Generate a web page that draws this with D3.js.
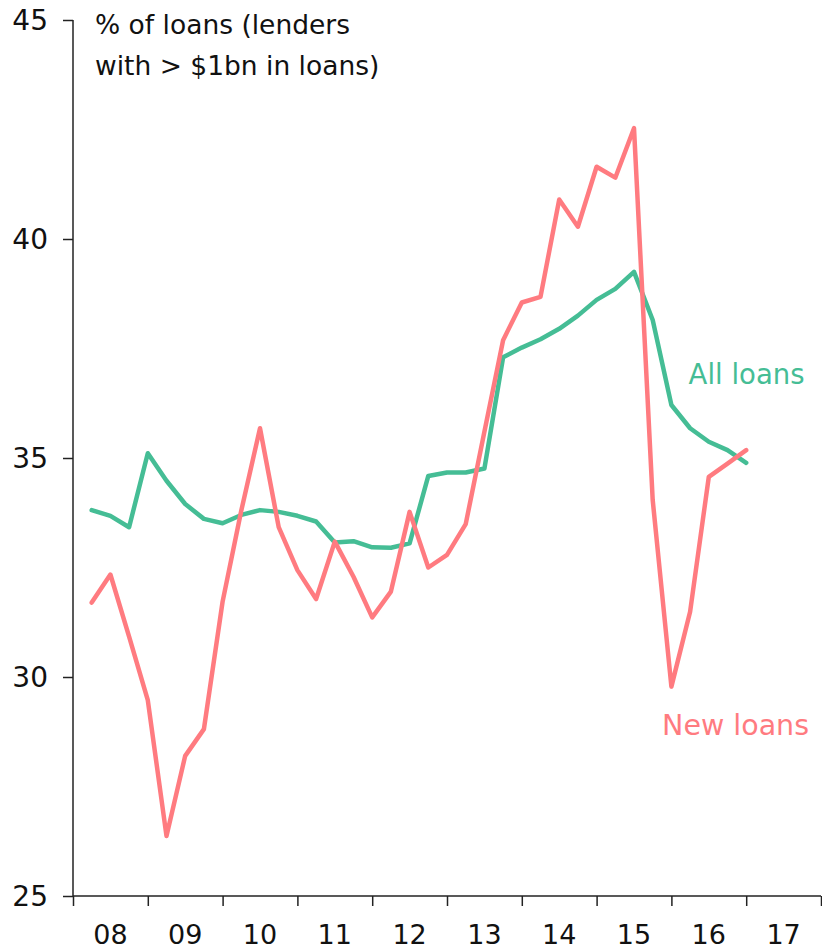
<!DOCTYPE html>
<html>
<head>
<meta charset="utf-8">
<script src="https://cdnjs.cloudflare.com/ajax/libs/d3/7.8.5/d3.min.js"></script>
<style>
  body { margin: 0; background: #fff; }
  svg { display: block; font-family: "Century Gothic", "DejaVu Sans", sans-serif; }
</style>
</head>
<body>
<div id="chart"></div>
<script>
var svgWidth = 822;
var svgHeight = 951;

var chartMargin = {
  top: 20,
  right: 1,
  bottom: 55,
  left: 73
};

var chartWidth = svgWidth - chartMargin.left - chartMargin.right;
var chartHeight = svgHeight - chartMargin.top - chartMargin.bottom;

// quarterly observations, plotted at the end of each quarter
var quarters = [
  "2008Q1", "2008Q2", "2008Q3", "2008Q4",
  "2009Q1", "2009Q2", "2009Q3", "2009Q4",
  "2010Q1", "2010Q2", "2010Q3", "2010Q4",
  "2011Q1", "2011Q2", "2011Q3", "2011Q4",
  "2012Q1", "2012Q2", "2012Q3", "2012Q4",
  "2013Q1", "2013Q2", "2013Q3", "2013Q4",
  "2014Q1", "2014Q2", "2014Q3", "2014Q4",
  "2015Q1", "2015Q2", "2015Q3", "2015Q4",
  "2016Q1", "2016Q2", "2016Q3", "2016Q4"
];

var allLoans = [
  33.81, 33.68, 33.42, 35.11,
  34.48, 33.95, 33.61, 33.51,
  33.70, 33.81, 33.77, 33.68,
  33.55, 33.07, 33.10, 32.96,
  32.95, 33.05, 34.59, 34.67,
  34.67, 34.76, 37.30, 37.52,
  37.71, 37.95, 38.25, 38.61,
  38.86, 39.25, 38.15, 36.21,
  35.68, 35.37, 35.18, 34.89
];

var newLoans = [
  31.70, 32.34, 30.92, 29.47,
  26.37, 28.20, 28.81, 31.72,
  33.80, 35.68, 33.42, 32.44,
  31.78, 33.09, 32.29, 31.36,
  31.95, 33.77, 32.50, 32.79,
  33.49, 35.60, 37.69, 38.55,
  38.68, 40.90, 40.28, 41.65,
  41.40, 42.53, 34.04, 29.78,
  31.49, 34.57, 34.87, 35.18
];

var years = [2008, 2009, 2010, 2011, 2012, 2013, 2014, 2015, 2016, 2017];
var yTicks = [25, 30, 35, 40, 45];

var greenColor = "#45bd95";
var redColor = "#ff7b80";

function quarterToYear(q) {
  return +q.slice(0, 4) + (+q.slice(5)) / 4;
}

var svg = d3
  .select("#chart")
  .append("svg")
  .attr("height", svgHeight)
  .attr("width", svgWidth);

var chartGroup = svg.append("g")
  .attr("transform", `translate(${chartMargin.left}, ${chartMargin.top})`);

var xScale = d3.scaleLinear()
  .domain([2008, 2018])
  .range([0, chartWidth]);

var yScale = d3.scaleLinear()
  .domain([25, 45])
  .range([chartHeight, 0]);

// axes
var bottomAxis = d3.axisBottom(xScale)
  .tickValues(years.concat([2018]))
  .tickSize(10)
  .tickFormat("");

var leftAxis = d3.axisLeft(yScale)
  .tickValues(yTicks)
  .tickSize(10)
  .tickFormat("");

var x_axis = chartGroup.append("g")
  .attr("transform", `translate(0, ${chartHeight})`)
  .call(bottomAxis);

var y_axis = chartGroup.append("g")
  .call(leftAxis);

chartGroup.selectAll(".domain, .tick line")
  .attr("stroke", "#222")
  .attr("stroke-width", 1.5);

x_axis.select(".domain").attr("d", `M0,0H${chartWidth}`);
y_axis.select(".domain").attr("d", `M0,${chartHeight}V0`);

// year labels sit in the middle of each year
chartGroup.append("g")
  .selectAll("text")
  .data(years)
  .enter()
  .append("text")
  .attr("x", d => xScale(d + 0.5))
  .attr("y", chartHeight + 48)
  .attr("text-anchor", "middle")
  .style("font-size", "27px")
  .style("fill", "#111")
  .text(d => String(d).slice(2));

chartGroup.append("g")
  .selectAll("text")
  .data(yTicks)
  .enter()
  .append("text")
  .attr("x", -25)
  .attr("y", d => yScale(d))
  .attr("dy", "0.36em")
  .attr("text-anchor", "end")
  .style("font-size", "28px")
  .style("fill", "#111")
  .text(d => d);

// lines
var allData = quarters.map((q, i) => ({ x: quarterToYear(q), y: allLoans[i] }));
var newData = quarters.map((q, i) => ({ x: quarterToYear(q), y: newLoans[i] }));

var line = d3.line()
  .x(d => xScale(d.x))
  .y(d => yScale(d.y));

chartGroup.append("path")
  .datum(allData)
  .attr("d", line)
  .attr("fill", "none")
  .attr("stroke", greenColor)
  .attr("stroke-width", 4.5)
  .attr("stroke-linejoin", "round")
  .attr("stroke-linecap", "round");

chartGroup.append("path")
  .datum(newData)
  .attr("d", line)
  .attr("fill", "none")
  .attr("stroke", redColor)
  .attr("stroke-width", 4.5)
  .attr("stroke-linejoin", "round")
  .attr("stroke-linecap", "round");

// title
var title = svg.append("text")
  .attr("x", 95)
  .attr("y", 34)
  .style("font-size", "26.5px")
  .style("fill", "#111");

title.append("tspan")
  .attr("x", 95)
  .text("% of loans (lenders");

title.append("tspan")
  .attr("x", 95)
  .attr("dy", 41)
  .text("with > $1bn in loans)");

// series labels
chartGroup.append("text")
  .attr("x", xScale(2017.78))
  .attr("y", yScale(36.7))
  .attr("text-anchor", "end")
  .style("font-size", "27.5px")
  .style("fill", greenColor)
  .text("All loans");

chartGroup.append("text")
  .attr("x", xScale(2017.84))
  .attr("y", yScale(28.68))
  .attr("text-anchor", "end")
  .style("font-size", "28.5px")
  .style("fill", redColor)
  .text("New loans");
</script>
</body>
</html>
